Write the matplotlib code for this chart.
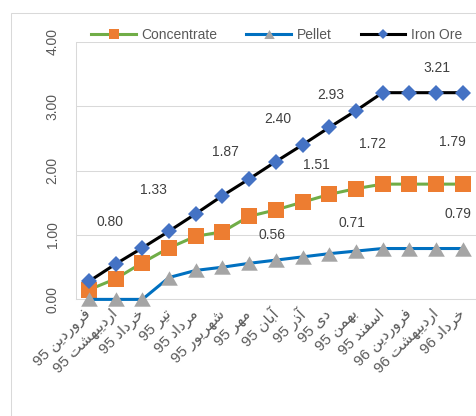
import matplotlib
matplotlib.use("Agg")
import matplotlib.pyplot as plt
from matplotlib.lines import Line2D
from matplotlib.patches import Rectangle

months = ["فروردین", "اردیبهشت", "خرداد", "تیر", "مرداد", "شهریور", "مهر",
          "آبان", "آذر", "دی", "بهمن", "اسفند", "فروردین", "اردیبهشت", "خرداد"]
years = ["95"] * 12 + ["96"] * 3

concentrate = [0.15, 0.32, 0.57, 0.80, 0.98, 1.05, 1.29, 1.39, 1.51, 1.63, 1.72, 1.79, 1.79, 1.79, 1.79]
pellet = [0.00, 0.00, 0.00, 0.34, 0.45, 0.50, 0.56, 0.61, 0.66, 0.71, 0.75, 0.79, 0.79, 0.79, 0.79]
iron_ore = [0.28, 0.55, 0.80, 1.06, 1.33, 1.61, 1.87, 2.14, 2.40, 2.67, 2.93, 3.21, 3.21, 3.21, 3.21]

yticks = [0, 1, 2, 3, 4]

GREEN, ORANGE = "#70AD47", "#ED7D31"
BLUE, GRAY = "#0070C0", "#A5A5A5"
BLACK, DBLUE = "#000000", "#4472C4"
GRID = "#D9D9D9"
TXT = "#595959"
LBL = "#404040"

# ---- minimal Persian shaping (presentation forms) so the labels join like Excel's
FORMS = {  # isolated, final, initial, medial
    "ا": ("\uFE8D", "\uFE8E"), "آ": ("\uFE81", "\uFE82"),
    "د": ("\uFEA9", "\uFEAA"), "ذ": ("\uFEAB", "\uFEAC"),
    "ر": ("\uFEAD", "\uFEAE"), "و": ("\uFEED", "\uFEEE"),
    "ب": ("\uFE8F", "\uFE90", "\uFE91", "\uFE92"),
    "ت": ("\uFE95", "\uFE96", "\uFE97", "\uFE98"),
    "خ": ("\uFEA5", "\uFEA6", "\uFEA7", "\uFEA8"),
    "س": ("\uFEB1", "\uFEB2", "\uFEB3", "\uFEB4"),
    "ش": ("\uFEB5", "\uFEB6", "\uFEB7", "\uFEB8"),
    "ف": ("\uFED1", "\uFED2", "\uFED3", "\uFED4"),
    "م": ("\uFEE1", "\uFEE2", "\uFEE3", "\uFEE4"),
    "ن": ("\uFEE5", "\uFEE6", "\uFEE7", "\uFEE8"),
    "ه": ("\uFEE9", "\uFEEA", "\uFEEB", "\uFEEC"),
    "ی": ("\uFBFC", "\uFBFD", "\uFBFE", "\uFBFF"),
}


def shape(word):
    out = []
    for i, ch in enumerate(word):
        f = FORMS[ch]
        prev_joins = i > 0 and len(FORMS[word[i - 1]]) == 4
        next_joins = len(f) == 4 and i + 1 < len(word)
        if prev_joins and next_joins:
            out.append(f[3])
        elif next_joins:
            out.append(f[2])
        elif prev_joins:
            out.append(f[1])
        else:
            out.append(f[0])
    return "".join(out)


# visual (left-to-right) order of "month year"
xlabels = [f"{y} {shape(m)[::-1]}" for m, y in zip(months, years)]
x = list(range(len(months)))

fig = plt.figure(figsize=(4.76, 4.16), dpi=100)
fig.patch.set_facecolor("white")
fig.add_artist(Rectangle((11 / 476, -0.1), 1.2, 1.0688, transform=fig.transFigure,
                         fill=False, edgecolor=GRID, linewidth=0.75))

ax = fig.add_axes([75.65 / 476, 0.2803, 1 - 75.65 / 476, 0.8995 - 0.2803])
ax.set_xlim(-0.5, len(x) - 0.5)
ax.set_ylim(0, 4)

tri = [(-1, -0.866), (1, -0.866), (0, 0.866)]
ax.plot(x, concentrate, color=GREEN, lw=2.2, marker="s", ms=11.5,
        mfc=ORANGE, mec=ORANGE, mew=0, zorder=3, clip_on=False)
ax.plot(x, pellet, color=BLUE, lw=2.2, marker=tri, ms=12,
        mfc=GRAY, mec=GRAY, mew=0, zorder=4, clip_on=False)
ax.plot(x, iron_ore, color=BLACK, lw=2.2, marker="D", ms=8,
        mfc=DBLUE, mec=DBLUE, mew=0, zorder=5, clip_on=False)

# value labels: (series, index, offset in px)
labels = [
    (iron_ore, 2, -32, -26), (iron_ore, 4, -42, -24), (iron_ore, 6, -24, -27),
    (iron_ore, 8, -25, -26), (iron_ore, 10, -25, -16), (iron_ore, 14, -26, -25),
    (concentrate, 8, 14, -37), (concentrate, 10, 17, -45), (concentrate, 14, -10, -42),
    (pellet, 6, 23, -28), (pellet, 9, 23, -31), (pellet, 14, -5, -35),
]
for s, i, dx, dy in labels:
    ax.annotate(f"{s[i]:.2f}", xy=(i, s[i]), xytext=(dx * 0.72, -dy * 0.72),
                textcoords="offset points", ha="center", va="center",
                fontsize=10, color=LBL, family="Liberation Sans", zorder=6)

ax.set_yticks(yticks)
ax.set_yticklabels([f"{v:.2f}" for v in yticks], rotation=90, va="center",
                   fontsize=10, color=TXT, family="Liberation Sans")
ax.set_xticks(x)
ax.set_xticklabels(xlabels, rotation=45, ha="right", va="center", rotation_mode="anchor",
                   fontsize=11, color=TXT, family=["Liberation Sans", "DejaVu Sans"])
ax.tick_params(axis="y", length=0, pad=11.5)
ax.tick_params(axis="x", length=0, pad=9)
ax.yaxis.grid(True, color=GRID, lw=0.75)
ax.set_axisbelow(True)
for side in ("top", "right"):
    ax.spines[side].set_visible(False)
for side in ("left", "bottom"):
    ax.spines[side].set_color(GRID)
    ax.spines[side].set_linewidth(0.75)

handles = [
    Line2D([], [], color=GREEN, lw=2.2, marker="s", ms=7, mfc=ORANGE, mec=ORANGE, mew=0),
    Line2D([], [], color=BLUE, lw=2.2, marker=tri, ms=7.5, mfc=GRAY, mec=GRAY, mew=0),
    Line2D([], [], color=BLACK, lw=2.2, marker="D", ms=5, mfc=DBLUE, mec=DBLUE, mew=0),
]
fig.legend(handles, ["Concentrate", "Pellet", "Iron Ore"], loc="center",
           bbox_to_anchor=(0.581, 0.916), ncol=3, frameon=False,
           prop={"family": "Liberation Sans", "size": 10}, labelcolor=TXT,
           handlelength=3.2, handletextpad=0.4, columnspacing=2.1)

fig.savefig("out.png", dpi=100, facecolor="white")
